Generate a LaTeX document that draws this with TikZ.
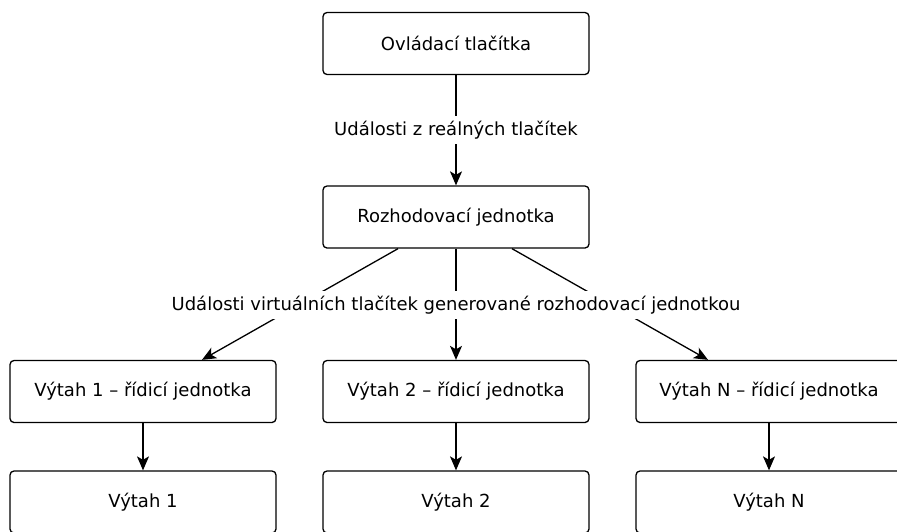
\documentclass[tikz,border=0pt]{standalone}
\usepackage{fontspec}
\setmainfont{DejaVu Sans}
\usetikzlibrary{arrows.meta,positioning}

\begin{document}
\begin{tikzpicture}[x=1pt,y=-1pt]
\tikzset{
  unitbox/.style={rectangle,draw,rounded corners=4pt,line width=1.3pt,minimum width=266pt,minimum height=62pt,inner sep=0pt,font=\fontsize{18}{21}\selectfont},
  flowlabel/.style={fill=white,inner xsep=3pt,inner ysep=5pt,font=\fontsize{18}{21}\selectfont},
  directed/.style={-{Stealth[length=14pt,width=12pt,inset=3.5pt]},line width=1.3pt},
  undirected/.style={line width=1.3pt}
}
\clip (0,0) rectangle (897,531);
\node[unitbox] (n_ctrl) at (456,43.5) {Ovládací tlačítka};
\node[unitbox] (n_decide) at (456,217) {Rozhodovací jednotka};
\node[unitbox] (n_unit1) at (143,391.5) {Výtah 1 – řídicí jednotka};
\node[unitbox] (n_unit2) at (456,391.5) {Výtah 2 – řídicí jednotka};
\node[unitbox] (n_unitN) at (769,391.5) {Výtah N – řídicí jednotka};
\node[unitbox] (n_lift1) at (143,502) {Výtah 1};
\node[unitbox] (n_lift2) at (456,502) {Výtah 2};
\node[unitbox] (n_liftN) at (769,502) {Výtah N};
\draw[directed] (n_ctrl) -- (n_decide);
\draw[directed] ([xshift=-58pt]n_decide.south) -- ([xshift=59pt]n_unit1.north);
\draw[directed] (n_decide) -- (n_unit2);
\draw[directed] ([xshift=56pt]n_decide.south) -- ([xshift=-61pt]n_unitN.north);
\draw[directed] (n_unit1) -- (n_lift1);
\draw[directed] (n_unit2) -- (n_lift2);
\draw[directed] (n_unitN) -- (n_liftN);
\node[flowlabel] (l_real) at (456,130) {Události z reálných tlačítek};
\node[flowlabel] (l_virt) at (456,305) {Události virtuálních tlačítek generované rozhodovací jednotkou};
\end{tikzpicture}
\end{document}
